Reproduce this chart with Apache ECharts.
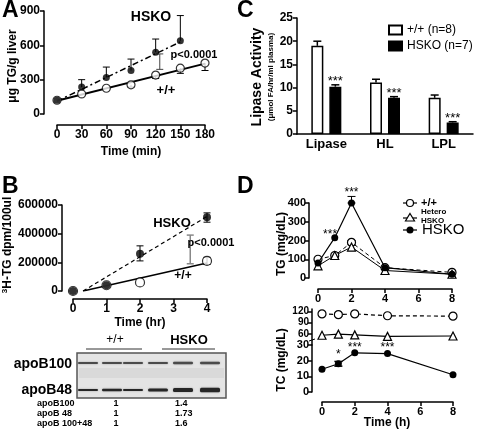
<!DOCTYPE html>
<html><head><meta charset="utf-8">
<script src="https://cdn.jsdelivr.net/npm/echarts@6/dist/echarts.min.js"></script>
<style>html,body{margin:0;padding:0;background:#fff}#c{width:477px;height:430px}</style>
</head><body><div id="c"></div>
<script>
// ---------- DATA ----------
// Panel A : liver TG secretion (µg TG/g liver) vs time (min)
const aHSKO = [[0,120],[30,235],[60,320],[90,380],[120,540],[150,640]];
const aWT   = [[0,120],[30,175],[60,225],[90,255],[120,340],[150,400],[180,445]];
const aHSKOErr = [[30,235,300],[60,320,410],[90,380,480],[120,540,655],[150,640,860]];
const aWTErr   = [[90,255,235],[120,340,310],[150,400,355],[180,445,380]];
const aHSKOFit = [[0,112],[150,630]];
const aWTFit   = [[0,115],[180,440]];
const aPBar    = [[125,390,525]];
// Panel B : 3H-TG dpm/100ul vs time (hr)
const bHSKO = [[0,0],[1,40000],[2,260000],[4,515000]];
const bWT   = [[0,0],[1,40000],[2,60000],[4,210000]];
const bHSKOErr = [[2,210000,315000],[4,480000,545000]];
const bWTErr   = [[4,185000,235000]];
const bHSKOFit = [[0.3,0],[4,520000]];
const bWTFit   = [[0.3,0],[4,195000]];
const bPBar    = [[3.5,190000,390000]];
// Panel C : lipase activity
const cCats = ['Lipase','HL','LPL'];
const cWT   = [19.0, 11.1, 7.8];
const cWTErr = [20.0, 11.8, 8.4];
const cHSKO = [10.2, 7.8, 2.5];
const cHSKOErr = [10.6, 8.05, 2.65];
const cSig = [11.3, 8.7, 3.3];
// Panel D : TG (mg/dL) and TC (mg/dL) vs time (h)
const dTGWT    = [[0,100],[1,120],[2,190],[4,55],[8,30]];
const dTGHet   = [[0,65],[1,120],[2,165],[4,40],[8,20]];
const dTGHSKO  = [[0,80],[1,215],[2,400],[4,55],[8,20]];
const dTGErr   = [[2,400,435],[2,178,200]];
const dTGSig   = [[0.72,229],[2,453]];
const dTCWT    = [[0,113],[1,111],[2,113],[4,108],[8,107]];
const dTCHet   = [[0,56],[1,59],[2,57],[4,53],[8,54]];
const dTCWTErr = [[0,109,117],[1,107,115]];
const dTCHSKO  = [[0,14.5],[1,18],[2,25],[4,24.5],[8,11]];
const dTCErr   = [[1,16.5,19.5]];
const dTCSig   = [[1,23.5],[2,28],[4,28]];
const dTCSigTxt = ['*','***','***'];
// Blot quantification table
const blotRows = ['apoB100','apoB 48','apoB 100+48'];
const blotWT   = ['1','1','1'];
const blotKO   = ['1.4','1.73','1.6'];

// ---------- HELPERS ----------
const FF = '"Liberation Sans", Arial, sans-serif';
function vAxis(gi, opt){
  return Object.assign({
    type:'value', gridIndex:gi, splitLine:{show:false},
    axisLine:{show:true, onZero:false, lineStyle:{color:'#000', width:1.5}},
    axisTick:{show:true, length:4, lineStyle:{color:'#000', width:1.5}},
    axisLabel:{color:'#000', fontFamily:FF, fontWeight:'bold', fontSize:12, margin:4, showMinLabel:true, showMaxLabel:true}
  }, opt);
}
function errSeries(xi, yi, data, opts){
  opts = opts || {};
  const cap = opts.cap || 7, color = opts.color || '#000', both = !!opts.both, xOff = opts.xOff || 0;
  return {
    type:'custom', xAxisIndex:xi, yAxisIndex:yi, data:data, z: opts.z || 3, silent:true,
    encode:{x:0, y:[1,2]},
    renderItem:function(p, api){
      const x = api.value(0);
      const a = api.coord([x, api.value(1)]), b = api.coord([x, api.value(2)]);
      const cx = a[0] + xOff;
      const st = {stroke:color, lineWidth: opts.lw || 1};
      const ch = [
        {type:'line', shape:{x1:cx,y1:a[1],x2:cx,y2:b[1]}, style:st},
        {type:'line', shape:{x1:cx-cap/2,y1:b[1],x2:cx+cap/2,y2:b[1]}, style:st}
      ];
      if (both) ch.push({type:'line', shape:{x1:cx-cap/2,y1:a[1],x2:cx+cap/2,y2:a[1]}, style:st});
      return {type:'group', children:ch};
    }
  };
}
function sigSeries(xi, yi, data, texts, opts){
  opts = opts || {};
  return {
    type:'custom', xAxisIndex:xi, yAxisIndex:yi, data:data, z:5, silent:true,
    renderItem:function(p, api){
      const c = api.coord([api.value(0), api.value(1)]);
      return {type:'text', x:c[0] + (opts.xOff||0), y:c[1],
        style:{text: texts[p.dataIndex], fill:'#000', fontFamily:FF, fontSize: opts.fs || 13,
          fontWeight:'normal', align:'center', verticalAlign:'middle'}};
    }
  };
}
function openSym(size){ return {symbol:'circle', symbolSize:size, itemStyle:{color:'#fff', borderColor:'#000', borderWidth:1.2}}; }
const lbl11 = {color:'#000', fontFamily:FF, fontWeight:'bold', fontSize:11, margin:3, showMinLabel:true, showMaxLabel:true};

const chart = echarts.init(document.getElementById('c'), null, {renderer:'canvas'});

const grids = [
  {left:57, top:11, width:148, height:103},
  {left:73, top:205, width:134, height:86},
  {left:297, top:18, width:176, height:116},
  {left:318, top:203, width:134, height:75},
  {left:322, top:309, width:131, height:36},
  {left:322, top:345, width:131, height:47}
].map(g => Object.assign(g, {containLabel:false, outerBoundsMode:'none'}));

const xAxes = [
  vAxis(0, {min:0, max:180, interval:30, offset:11}),
  vAxis(1, {min:0, max:4, interval:1, offset:8}),
  {type:'category', gridIndex:2, data:cCats, axisTick:{show:false},
   axisLine:{show:true, lineStyle:{color:'#000', width:1.5}},
   axisLabel:{color:'#000', fontFamily:FF, fontWeight:'bold', fontSize:13, margin:4}},
  vAxis(3, {min:0, max:8, interval:2, offset:11, axisLabel:Object.assign({}, lbl11, {margin:4})}),
  vAxis(4, {min:0, max:8, show:false}),
  vAxis(5, {min:0, max:8, interval:2, offset:10, axisLabel:Object.assign({}, lbl11, {margin:4})})
];
const yAxes = [
  vAxis(0, {min:0, max:900, interval:300, offset:13}),
  vAxis(1, {min:0, max:600000, interval:200000, offset:11,
     axisLabel:{color:'#000', fontFamily:FF, fontWeight:'bold', fontSize:12, margin:4, showMinLabel:true, showMaxLabel:true,
       formatter:function(v){ return String(v); }}}),
  vAxis(2, {min:0, max:25, interval:5}),
  vAxis(3, {min:0, max:400, interval:100, offset:9, axisLabel:lbl11}),
  vAxis(4, {min:30, max:126, offset:10,
     axisTick:{show:true, length:4, customValues:[60,90,120], lineStyle:{color:'#000', width:1.5}},
     axisLabel:Object.assign({}, lbl11, {customValues:[60,90,120], fontSize:10})}),
  vAxis(5, {min:0, max:30, interval:10, offset:10, axisLabel:lbl11})
];

const series = [
  // ---- A ----
  {type:'line', xAxisIndex:0, yAxisIndex:0, data:aHSKOFit, symbol:'none', z:2,
   lineStyle:{color:'#000', width:1.5, type:[6,3,2,3]}},
  {type:'line', xAxisIndex:0, yAxisIndex:0, data:aWTFit, symbol:'none', z:2,
   lineStyle:{color:'#000', width:2}},
  errSeries(0,0,aHSKOErr),
  errSeries(0,0,aWTErr),
  errSeries(0,0,aPBar,{both:true, color:'#444'}),
  Object.assign({type:'scatter', xAxisIndex:0, yAxisIndex:0, data:aWT, z:4}, openSym(8)),
  {type:'scatter', xAxisIndex:0, yAxisIndex:0, data:aHSKO, z:5, symbol:'circle', symbolSize:7, itemStyle:{color:'#000'}},
  // ---- B ----
  {type:'line', xAxisIndex:1, yAxisIndex:1, data:bHSKOFit, symbol:'none', z:2,
   lineStyle:{color:'#000', width:1.2, type:[4,3]}},
  {type:'line', xAxisIndex:1, yAxisIndex:1, data:bWTFit, symbol:'none', z:2,
   lineStyle:{color:'#000', width:1.6}},
  errSeries(1,1,bHSKOErr,{both:true}),
  errSeries(1,1,bWTErr,{both:true}),
  errSeries(1,1,bPBar,{both:true, color:'#888', lw:1.5}),
  Object.assign({type:'scatter', xAxisIndex:1, yAxisIndex:1, data:bWT, z:4}, openSym(9)),
  {type:'scatter', xAxisIndex:1, yAxisIndex:1, data:bHSKO, z:5, symbol:'circle', symbolSize:8, itemStyle:{color:'#000'}},
  // ---- C ----
  {type:'bar', name:'+/+ (n=8)', xAxisIndex:2, yAxisIndex:2, data:cWT, barWidth:12, barGap:'50%',
   itemStyle:{color:'#fff', borderColor:'#000', borderWidth:1.5}},
  {type:'bar', name:'HSKO (n=7)', xAxisIndex:2, yAxisIndex:2, data:cHSKO, barWidth:12,
   itemStyle:{color:'#000', borderColor:'#000', borderWidth:1.5}},
  errSeries(2,2,cWT.map((v,i)=>[i,v,cWTErr[i]]),{xOff:-9, cap:8, lw:1.5}),
  errSeries(2,2,cHSKO.map((v,i)=>[i,v,cHSKOErr[i]]),{xOff:9, cap:8, lw:1.5}),
  sigSeries(2,2,cSig.map((v,i)=>[i,v]),['***','***','***'],{xOff:9, fs:13}),
  // ---- D TG ----
  errSeries(3,3,dTGErr,{both:true, cap:8}),
  Object.assign({type:'line', xAxisIndex:3, yAxisIndex:3, data:dTGWT, z:3,
   lineStyle:{color:'#000', width:1, type:[4,3]}}, openSym(8)),
  {type:'line', xAxisIndex:3, yAxisIndex:3, data:dTGHet, z:3, symbol:'triangle', symbolSize:8,
   itemStyle:{color:'#fff', borderColor:'#000', borderWidth:1.2}, lineStyle:{color:'#000', width:1}},
  {type:'line', xAxisIndex:3, yAxisIndex:3, data:dTGHSKO, z:4, symbol:'circle', symbolSize:7,
   itemStyle:{color:'#000'}, lineStyle:{color:'#000', width:1.2}},
  sigSeries(3,3,dTGSig,['***','***'],{fs:12}),
  // ---- D TC upper ----
  errSeries(4,4,dTCWTErr,{both:true, cap:8}),
  Object.assign({type:'line', xAxisIndex:4, yAxisIndex:4, data:dTCWT, z:3,
   lineStyle:{color:'#000', width:1.2, type:[4,3]}}, openSym(8)),
  {type:'line', xAxisIndex:4, yAxisIndex:4, data:dTCHet, z:3, symbol:'triangle', symbolSize:8,
   itemStyle:{color:'#fff', borderColor:'#000', borderWidth:1.2}, lineStyle:{color:'#000', width:1.2}},
  // ---- D TC lower ----
  errSeries(5,5,dTCErr,{both:true, cap:8, lw:1.5}),
  {type:'line', xAxisIndex:5, yAxisIndex:5, data:dTCHSKO, z:4, symbol:'circle', symbolSize:7,
   itemStyle:{color:'#000'}, lineStyle:{color:'#000', width:1.2}},
  sigSeries(5,5,dTCSig,dTCSigTxt,{fs:12})
];

// ---------- GRAPHICS (labels, blot, legend D) ----------
function txt(x, y, text, o){
  o = o || {};
  return {type:'text', x:x, y:y, rotation:o.rot||0, z:10, silent:true,
    style:{text:text, fill:o.fill||'#000', fontFamily:FF, fontSize:o.fs||12, fontWeight:o.fw||'bold',
      align:o.align||'center', verticalAlign:'middle', rich:o.rich}};
}
const R = Math.PI/2;
const g = [];
g.push(txt(2,11,'A',{fs:23, align:'left'}));
g.push(txt(2,187,'B',{fs:23, align:'left'}));
g.push(txt(237,11,'C',{fs:23, align:'left'}));
g.push(txt(237,187,'D',{fs:23, align:'left'}));
// A texts
g.push(txt(13,66,'μg TG/g liver',{rot:R, fs:12}));
g.push(txt(131,152,'Time (min)',{fs:12}));
g.push(txt(151,17,'HSKO',{fs:14}));
g.push(txt(194,55,'p<0.0001',{fs:11}));
g.push(txt(166,90,'+/+',{fs:13}));
// B texts
g.push(txt(8,245,'{s|3}H-TG dpm/100ul',{rot:R, fs:12, rich:{s:{fontSize:8, fontWeight:'bold', fontFamily:FF, padding:[0,0,6,0]}}}));
g.push(txt(140,323,'Time (hr)',{fs:12}));
g.push(txt(172,223,'HSKO',{fs:13}));
g.push(txt(211,243,'p<0.0001',{fs:11}));
g.push(txt(183,276,'+/+',{fs:12}));
// C y title
g.push(txt(257,77,'Lipase Activity',{rot:R, fs:14}));
g.push(txt(271,77,'(μmol FA/hr/ml plasma)',{rot:R, fs:8}));
// D texts
g.push(txt(282,244,'TG (mg/dL)',{rot:R, fs:12}));
g.push(txt(282,360,'TC (mg/dL)',{rot:R, fs:12}));
g.push(txt(387,423,'Time (h)',{fs:12}));
// TC axis break mark
g.push({type:'line', shape:{x1:309,y1:341,x2:315,y2:339}, style:{stroke:'#000', lineWidth:1}, z:10});
// D legend
g.push({type:'line', shape:{x1:403,y1:203,x2:417,y2:203}, style:{stroke:'#000', lineWidth:1.2}, z:10});
g.push({type:'circle', shape:{cx:410,cy:203,r:3.5}, style:{fill:'#fff', stroke:'#000', lineWidth:1.2}, z:11});
g.push(txt(421,203,'+/+',{fs:11, align:'left'}));
g.push({type:'line', shape:{x1:403,y1:218,x2:417,y2:218}, style:{stroke:'#000', lineWidth:1.2}, z:10});
g.push({type:'polygon', shape:{points:[[410,213.5],[414.5,221],[405.5,221]]}, style:{fill:'#fff', stroke:'#000', lineWidth:1.2}, z:11});
g.push(txt(421,212,'Hetero',{fs:8, align:'left'}));
g.push(txt(421,221,'HSKO',{fs:8, align:'left'}));
g.push({type:'line', shape:{x1:403,y1:230,x2:417,y2:230}, style:{stroke:'#000', lineWidth:1.2}, z:10});
g.push({type:'circle', shape:{cx:410,cy:230,r:3.5}, style:{fill:'#000'}, z:11});
g.push(txt(422,230,'HSKO',{fs:15, fw:'normal', align:'left'}));
// Blot panel
g.push(txt(115,340,'+/+',{fs:12, fw:'normal'}));
g.push(txt(189,340,'HSKO',{fs:13}));
g.push({type:'line', shape:{x1:86,y1:349,x2:142,y2:349}, style:{stroke:'#333', lineWidth:1}, z:10});
g.push({type:'line', shape:{x1:162,y1:349,x2:215,y2:349}, style:{stroke:'#333', lineWidth:1}, z:10});
g.push({type:'rect', shape:{x:77,y:353,width:149,height:45}, style:{fill:'#e4e4e4', stroke:'#555', lineWidth:1.5}, z:9});
g.push({type:'rect', shape:{x:79,y:368,width:145,height:10}, style:{fill:'#d9d9d9'}, z:9});
const lanes = [88,112,133,158,183,210];
const b100 = [1.8,2.0,1.8,2.2,2.4,2.4];
const b48  = [2.0,2.4,2.0,3.0,3.8,4.6];
lanes.forEach((cx,i)=>{
  g.push({type:'rect', shape:{x:cx-10,y:363-b100[i]/2,width:20,height:b100[i],r:1.2}, style:{fill:'#4a4a4a', shadowBlur:2, shadowColor:'rgba(0,0,0,0.3)'}, z:10});
  g.push({type:'rect', shape:{x:cx-10,y:390-b48[i]/2,width:20,height:b48[i],r:1.5}, style:{fill:'#262626', shadowBlur:2, shadowColor:'rgba(0,0,0,0.3)'}, z:10});
});
g.push(txt(72,364,'apoB100',{fs:14, align:'right'}));
g.push(txt(72,390,'apoB48',{fs:14, align:'right'}));
blotRows.forEach((r,i)=>{
  const y = 404 + i*10;
  g.push(txt(37,y,r,{fs:9, align:'left'}));
  g.push(txt(116,y,blotWT[i],{fs:9}));
  g.push(txt(175,y,blotKO[i],{fs:9, align:'left'}));
});

chart.setOption({
  animation:false,
  backgroundColor:'#fff',
  textStyle:{fontFamily:FF},
  grid:grids, xAxis:xAxes, yAxis:yAxes, series:series,
  legend:{left:383, top:19, orient:'vertical', itemWidth:13, itemHeight:9, itemGap:4, selectedMode:false, icon:'rect',
    data:['+/+ (n=8)','HSKO (n=7)'], textStyle:{fontSize:12, fontFamily:FF, color:'#000'}},
  graphic:g
});
</script></body></html>
